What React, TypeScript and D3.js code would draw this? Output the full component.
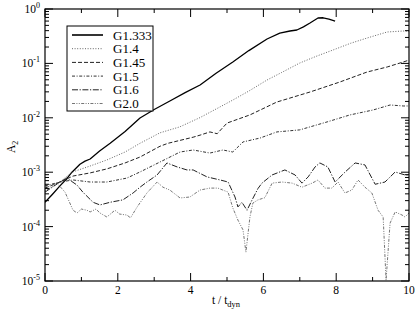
import React, { useEffect, useRef } from 'react';
import * as d3 from 'd3';

// [t / t_dyn, A2]
const g1333: [number, number][] = [
  [0, 2.8e-4], [0.2, 3.9e-4], [0.41, 5.6e-4], [0.6, 7.6e-4], [0.74, 1.0e-3], [0.96, 1.4e-3],
  [1.1, 1.6e-3], [1.24, 1.75e-3], [1.5, 2.45e-3], [1.79, 3.4e-3], [2.2, 5.6e-3], [2.61, 9.9e-3],
  [3.0, 0.0142], [3.43, 0.0204], [3.85, 0.029], [4.26, 0.0401], [4.7, 0.066], [5.16, 0.106],
  [5.6, 0.172], [6.1, 0.281], [6.45, 0.36], [6.73, 0.394], [6.92, 0.411], [7.1, 0.47],
  [7.28, 0.553], [7.5, 0.683], [7.64, 0.69], [7.8, 0.65], [7.97, 0.6],
];
const g14: [number, number][] = [
  [0, 4.5e-4], [0.41, 6.6e-4], [0.74, 1.0e-3], [1.24, 1.3e-3], [1.7, 1.68e-3], [2.2, 2.35e-3],
  [2.61, 3.4e-3], [3.16, 5.3e-3], [3.7, 6.8e-3], [4.26, 0.0101], [4.7, 0.0145], [5.16, 0.0212],
  [5.6, 0.031], [6.1, 0.0495], [6.5, 0.068], [7.0, 0.1017], [7.45, 0.135], [7.91, 0.176],
  [8.4, 0.235], [8.85, 0.293], [9.4, 0.378], [9.84, 0.394], [10, 0.39],
];
const g145: [number, number][] = [
  [0, 5.1e-4], [0.41, 6.6e-4], [0.77, 8.5e-4], [1.24, 9.7e-4], [1.7, 1.15e-3], [2.2, 1.48e-3],
  [2.61, 1.9e-3], [3.16, 3.0e-3], [3.38, 3.4e-3], [4.07, 4.4e-3], [4.26, 4.8e-3], [4.53, 5.5e-3],
  [4.73, 5.1e-3], [5.0, 8.0e-3], [5.63, 0.0113], [6.37, 0.0195], [7.28, 0.0298], [8.1, 0.0455],
  [8.85, 0.0695], [9.4, 0.0859], [9.84, 0.106], [10, 0.115],
];
const g15: [number, number][] = [
  [0, 5.6e-4], [0.41, 6.6e-4], [0.77, 7.2e-4], [1.24, 6.6e-4], [1.7, 6.6e-4], [2.25, 7.8e-4],
  [2.61, 1.01e-3], [3.16, 1.54e-3], [3.71, 2.35e-3], [4.07, 2.56e-3], [4.53, 2.25e-3],
  [4.89, 2.56e-3], [5.16, 2.35e-3], [5.44, 3.6e-3], [5.91, 4.25e-3], [6.37, 5.5e-3], [7.0, 6.0e-3],
  [7.75, 8.4e-3], [8.38, 0.0113], [9.01, 0.0139], [9.48, 0.0172], [9.84, 0.0165], [10, 0.0165],
];
const g16: [number, number][] = [
  [0, 4.3e-4], [0.41, 6.6e-4], [0.6, 7.8e-4], [0.88, 5.8e-4], [1.04, 4.3e-4], [1.32, 2.8e-4],
  [1.51, 2.5e-4], [1.79, 2.8e-4], [2.14, 3.1e-4], [2.42, 4.15e-4], [2.61, 5.3e-4], [2.8, 6.6e-4],
  [3.08, 8.9e-4], [3.35, 1.48e-3], [3.63, 1.25e-3], [3.9, 1.1e-3], [4.07, 1.1e-3], [4.45, 8.2e-4],
  [4.81, 7.2e-4], [5.03, 6.6e-4], [5.22, 3.5e-4], [5.3, 2.3e-4], [5.41, 2.8e-4], [5.55, 2.0e-4],
  [5.69, 3.1e-4], [5.85, 5.0e-4], [5.96, 6.3e-4], [6.24, 8.9e-4], [6.59, 1.1e-3], [6.87, 8.9e-4],
  [7.06, 6.3e-4], [7.23, 8.2e-4], [7.42, 1.25e-3], [7.55, 1.48e-3], [7.77, 1.25e-3], [7.97, 6.6e-4],
  [8.24, 1.0e-3], [8.52, 1.48e-3], [8.79, 1.36e-3], [9.07, 6.0e-4], [9.34, 6.6e-4], [9.62, 1.01e-3],
  [9.89, 8.9e-4], [10, 8.9e-4],
];
const g20: [number, number][] = [
  [0, 5.8e-4], [0.055, 5.3e-4], [0.33, 6.3e-4], [0.55, 4.3e-4], [0.77, 2.0e-4], [0.88, 1.78e-4],
  [1.0, 2.1e-4], [1.15, 2.0e-4], [1.24, 1.86e-4], [1.4, 2.1e-4], [1.51, 1.78e-4], [1.7, 1.5e-4],
  [1.92, 2.0e-4], [2.05, 1.7e-4], [2.25, 1.63e-4], [2.35, 1.45e-4], [2.53, 2.29e-4], [2.8, 4.15e-4],
  [3.08, 6.6e-4], [3.24, 5.3e-4], [3.43, 4.7e-4], [3.71, 3.36e-4], [3.98, 3.5e-4], [4.26, 4.7e-4],
  [4.53, 5.1e-4], [4.75, 5.1e-4], [5.03, 4.3e-4], [5.16, 2.2e-4], [5.3, 1.32e-4], [5.44, 8.7e-5],
  [5.52, 3.4e-5], [5.63, 1.5e-4], [5.71, 2.7e-4], [5.85, 3.1e-4], [6.04, 3.4e-4], [6.24, 6.3e-4],
  [6.51, 6.6e-4], [6.79, 6.3e-4], [7.06, 5.3e-4], [7.34, 6.3e-4], [7.5, 7.2e-4], [7.69, 5.1e-4],
  [7.88, 5.1e-4], [8.05, 6.6e-4], [8.24, 4.15e-4], [8.43, 4.7e-4], [8.6, 7.2e-4], [8.79, 5.3e-4],
  [8.98, 4.15e-4], [9.15, 2.0e-4], [9.29, 1.5e-4], [9.37, 1.04e-5], [9.48, 1.16e-4], [9.62, 1.86e-4],
  [9.81, 1.63e-4], [9.89, 1.5e-4], [10, 1.78e-4],
];

const seriesNames = ['G1.333', 'G1.4', 'G1.45', 'G1.5', 'G1.6', 'G2.0'];
const seriesData = [g1333, g14, g145, g15, g16, g20];
const xTicks = [0, 2, 4, 6, 8, 10];
const yDecades = [-5, -4, -3, -2, -1, 0];

// line looks, same order as seriesNames
const looks = [
  { dash: 'none', width: 1.3, color: '#000' },
  { dash: '1,1.6', width: 0.9, color: '#555' },
  { dash: '4,2', width: 1, color: '#222' },
  { dash: '3,1.6,1,1.6', width: 1, color: '#333' },
  { dash: '6,1.6,1.2,1.6', width: 1, color: '#222' },
  { dash: '3,1.4,1,1.4,1,1.4', width: 0.9, color: '#666' },
];

const App: React.FC = () => {
  const svgRef = useRef<SVGSVGElement | null>(null);

  useEffect(() => {
    const width = 415;
    const height = 316;
    const left = 45, right = 409, top = 9, bottom = 281;
    const font = 'Liberation Serif, DejaVu Serif, serif';

    const svg = d3.select(svgRef.current);
    svg.selectAll('*').remove();
    svg.attr('width', width).attr('height', height).attr('viewBox', [0, 0, width, height]);
    svg.append('rect').attr('width', width).attr('height', height).attr('fill', '#fff');

    const x = d3.scaleLinear().domain([0, 10]).range([left, right]);
    const y = d3.scaleLog().domain([1e-5, 1]).range([bottom, top]);

    // curves
    const clip = svg.append('clipPath').attr('id', 'plotclip');
    clip.append('rect').attr('x', left).attr('y', top).attr('width', right - left).attr('height', bottom - top);

    const line = d3.line<[number, number]>()
      .x(d => x(d[0]))
      .y(d => y(d[1]));

    svg.append('g')
      .attr('clip-path', 'url(#plotclip)')
      .selectAll('path')
      .data(seriesData)
      .join('path')
      .attr('d', d => line(d))
      .attr('fill', 'none')
      .attr('stroke', (_, i) => looks[i].color)
      .attr('stroke-width', (_, i) => looks[i].width)
      .attr('stroke-dasharray', (_, i) => looks[i].dash)
      .attr('stroke-linejoin', 'round');

    // ticks, pointing inward on all four sides
    const minorX = d3.range(1, 10, 2);
    const minorY: number[] = [];
    yDecades.slice(0, -1).forEach(e => {
      for (let m = 2; m <= 9; m++) minorY.push(m * Math.pow(10, e));
    });
    const ticks = svg.append('g').attr('stroke', '#000').attr('stroke-width', 1);
    const major = 8, minor = 4;
    xTicks.forEach(t => {
      ticks.append('line').attr('x1', x(t)).attr('x2', x(t)).attr('y1', bottom).attr('y2', bottom - major);
      ticks.append('line').attr('x1', x(t)).attr('x2', x(t)).attr('y1', top).attr('y2', top + major);
    });
    minorX.forEach(t => {
      ticks.append('line').attr('x1', x(t)).attr('x2', x(t)).attr('y1', bottom).attr('y2', bottom - minor);
      ticks.append('line').attr('x1', x(t)).attr('x2', x(t)).attr('y1', top).attr('y2', top + minor);
    });
    yDecades.forEach(e => {
      const v = Math.pow(10, e);
      ticks.append('line').attr('x1', left).attr('x2', left + major).attr('y1', y(v)).attr('y2', y(v));
      ticks.append('line').attr('x1', right).attr('x2', right - major).attr('y1', y(v)).attr('y2', y(v));
    });
    minorY.forEach(v => {
      ticks.append('line').attr('x1', left).attr('x2', left + minor).attr('y1', y(v)).attr('y2', y(v));
      ticks.append('line').attr('x1', right).attr('x2', right - minor).attr('y1', y(v)).attr('y2', y(v));
    });

    // frame
    svg.append('rect')
      .attr('x', left).attr('y', top)
      .attr('width', right - left).attr('height', bottom - top)
      .attr('fill', 'none').attr('stroke', '#000').attr('stroke-width', 1.2);

    // tick labels
    svg.append('g')
      .selectAll('text')
      .data(xTicks)
      .join('text')
      .attr('x', d => x(d))
      .attr('y', bottom + 12.5)
      .attr('text-anchor', 'middle')
      .style('font-family', font)
      .attr('font-size', 11.5)
      .text(d => String(d));

    const yl = svg.append('g')
      .selectAll('text')
      .data(yDecades)
      .join('text')
      .attr('x', 40)
      .attr('y', d => y(Math.pow(10, d)) + 4)
      .attr('text-anchor', 'end')
      .style('font-family', font)
      .attr('font-size', 11.5);
    yl.append('tspan').text('10');
    yl.append('tspan').attr('dy', -5).attr('font-size', 8).text(d => (d === 0 ? '0' : `-${-d}`));

    // axis titles
    const xt = svg.append('text')
      .attr('x', 212).attr('y', 304)
      .style('font-family', font).attr('font-size', 11.5);
    xt.append('tspan').text('t / t');
    xt.append('tspan').attr('dy', 3).attr('font-size', 8.5).text('dyn');

    const yt = svg.append('text')
      .attr('transform', `translate(15,${(top + bottom) / 2 + 8}) rotate(-90)`)
      .style('font-family', font).attr('font-size', 11.5);
    yt.append('tspan').text('A');
    yt.append('tspan').attr('dy', 3).attr('font-size', 8).text('2');

    // legend
    const lg = svg.append('g');
    lg.append('rect')
      .attr('x', 67).attr('y', 26).attr('width', 86).attr('height', 85)
      .attr('fill', '#fff').attr('stroke', '#000').attr('stroke-width', 1);
    const rows = lg.selectAll('g.row')
      .data(seriesNames)
      .join('g')
      .attr('class', 'row')
      .attr('transform', (_, i) => `translate(0,${35 + i * 13.7})`);
    rows.append('line')
      .attr('x1', 72).attr('x2', 103)
      .attr('stroke', (_, i) => looks[i].color)
      .attr('stroke-width', (_, i) => (i === 0 ? 1.6 : looks[i].width))
      .attr('stroke-dasharray', (_, i) => looks[i].dash);
    rows.append('text')
      .attr('x', 113).attr('dy', '0.35em')
      .style('font-family', font).attr('font-size', 13)
      .text(d => d);
  }, []);

  return (
    <div style={{ position: 'absolute', left: 0, top: 0, background: '#fff' }}>
      <svg ref={svgRef} style={{ display: 'block' }}></svg>
    </div>
  );
};

export default App;
